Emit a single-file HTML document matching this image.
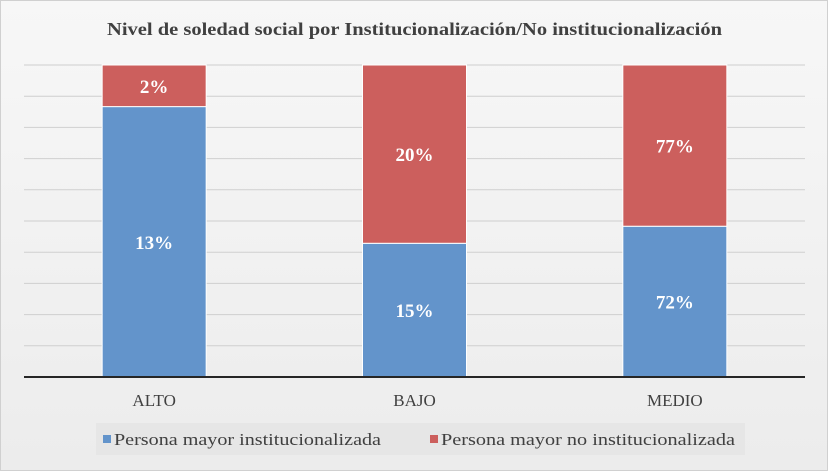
<!DOCTYPE html>
<html><head><meta charset="utf-8"><style>
body{margin:0;background:#fff}
svg{display:block;font-family:"Liberation Serif",serif}
</style></head><body>
<svg id="chart" width="828" height="471">
<defs><linearGradient id="bg" x1="0" y1="0" x2="0" y2="1"><stop offset="0" stop-color="#f7f7f7"/><stop offset="1" stop-color="#ececec"/></linearGradient></defs>
<rect x="0.5" y="0.5" width="827" height="470" fill="url(#bg)" stroke="#d0d0d0"/>
<text x="107" y="35" textLength="615" lengthAdjust="spacingAndGlyphs" font-size="18" font-weight="bold" fill="#404040">Nivel de soledad social por Institucionalización/No institucionalización</text>
<g id="grid"></g><g id="bars"></g>
<line x1="24" y1="377" x2="805" y2="377" stroke="#262626" stroke-width="2"/>
<g id="xlabels"></g>
<rect x="96" y="423" width="649" height="32" fill="#e6e6e6"/>
<rect x="103" y="435" width="8" height="8" fill="#6394cb"/>
<text x="114" y="445" textLength="267" lengthAdjust="spacingAndGlyphs" font-size="17" fill="#404040">Persona mayor institucionalizada</text>
<rect x="430" y="435" width="8" height="8" fill="#cc5f5d"/>
<text x="441" y="445" textLength="294" lengthAdjust="spacingAndGlyphs" font-size="17" fill="#404040">Persona mayor no institucionalizada</text>
</svg>
<script>
const categories=["ALTO","BAJO","MEDIO"];
const instValues=[13,15,72];
const noInstValues=[2,20,77];
const NS="http://www.w3.org/2000/svg";
const plotLeft=24,plotRight=805,plotTop=65,plotBottom=377,band=(plotRight-plotLeft)/3,barW=104;
const yScale=f=>plotBottom-f*(plotBottom-plotTop);
const xc=i=>plotLeft+band*(i+0.5);
function mk(t,a,p){const e=document.createElementNS(NS,t);for(const k in a)e.setAttribute(k,a[k]);p.appendChild(e);return e;}
const grid=document.getElementById('grid');
for(let i=1;i<=10;i++){const g=mk('line',{x1:plotLeft,x2:plotRight,y1:yScale(i/10),y2:yScale(i/10),stroke:'#cfcfcf','stroke-width':1},grid);

}
const bars=document.getElementById('bars'),xl=document.getElementById('xlabels');
categories.forEach((c,i)=>{
const tot=instValues[i]+noInstValues[i],f=instValues[i]/tot,x=xc(i)-barW/2;
const b=mk('rect',{x:x,y:yScale(f),width:barW,height:plotBottom-yScale(f),fill:'#6394cb',stroke:'#fff','stroke-width':1},bars);


const r=mk('rect',{x:x,y:yScale(1),width:barW,height:yScale(f)-yScale(1),fill:'#cc5f5d',stroke:'#fff','stroke-width':1},bars);


const t1=mk('text',{x:xc(i),y:(yScale(f)+plotBottom)/2+7,'text-anchor':'middle','font-size':19,'font-weight':'bold',fill:'#fff'},bars);t1.textContent=instValues[i]+'%';


const t2=mk('text',{x:xc(i),y:(yScale(f)+yScale(1))/2+7,'text-anchor':'middle','font-size':19,'font-weight':'bold',fill:'#fff'},bars);t2.textContent=noInstValues[i]+'%';


const l=mk('text',{x:xc(i),y:406,'text-anchor':'middle','font-size':17,fill:'#404040'},xl);l.textContent=c;


});
</script>
</body></html>
